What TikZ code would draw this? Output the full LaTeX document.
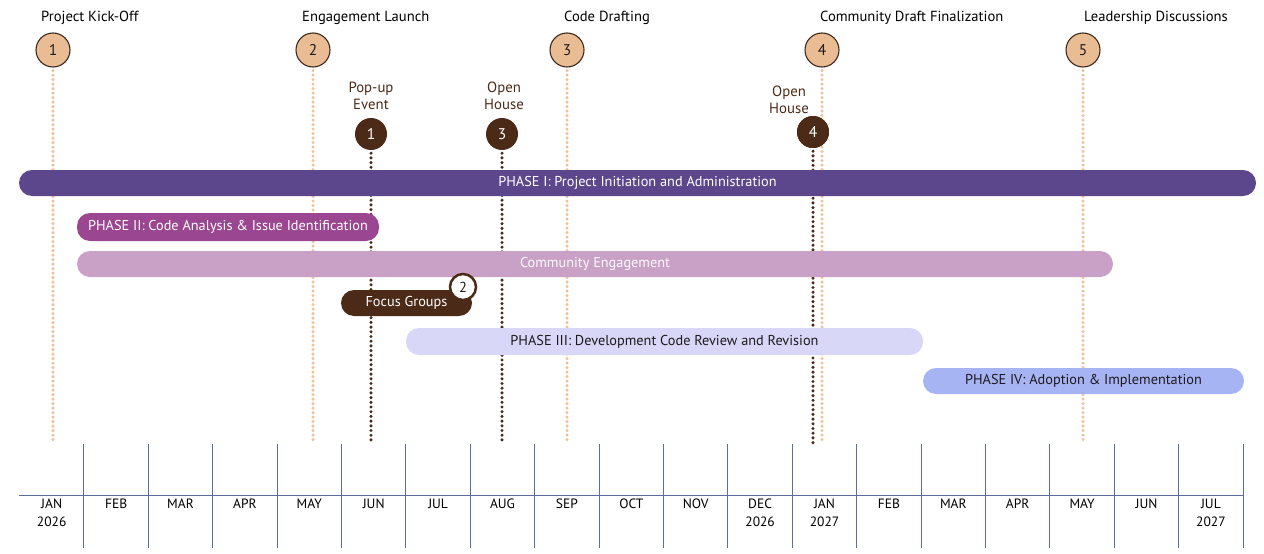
\documentclass[tikz,border=0pt]{standalone}
\usepackage{fontspec}
\setmainfont{PT Sans}
\usetikzlibrary{decorations.markings}
\definecolor{tanfill}{HTML}{E9BC94}
\definecolor{tandot}{HTML}{EFC29A}
\definecolor{ringdark}{HTML}{3C2A1E}
\definecolor{brownev}{HTML}{4B2A18}
\definecolor{phaseone}{HTML}{5C478D}
\definecolor{phasetwo}{HTML}{9A4690}
\definecolor{commeng}{HTML}{C9A1C6}
\definecolor{phasethree}{HTML}{D9D7F7}
\definecolor{phasefour}{HTML}{A7B4F4}
\definecolor{axisblue}{HTML}{5A6E9E}
\definecolor{textdark}{HTML}{1E1A1E}
\tikzset{
  milestone/.style={circle, draw=ringdark, line width=1.1pt, fill=tanfill, minimum size=34pt, inner sep=0pt, font=\fontsize{15.5}{16}\selectfont, text=textdark},
  eventdot/.style={circle, fill=brownev, minimum size=32pt, inner sep=0pt, font=\fontsize{15.5}{16}\selectfont, text=white},
  mslabel/.style={anchor=west, inner sep=0pt, font=\fontsize{14.6}{16}\selectfont, text=black},
  evlabel/.style={align=center, inner sep=0pt, font=\fontsize{14.8}{17}\selectfont, text=brownev},
  bar/.style={rounded corners=13pt, inner sep=0pt, font=\fontsize{14.3}{16}\selectfont},
  dotrow/.style 2 args={postaction={decorate, decoration={markings,
     mark=between positions 0 and 1 step #2 with {\fill[#1] (0,0) circle (1.7pt);}}}},
  tanline/.style={dotrow={tandot}{4.5pt}},
  darkline/.style={dotrow={brownev}{4.7pt}},
  axisline/.style={draw=axisblue, line width=1pt},
  monthlabel/.style={align=center, inner sep=0pt, font=\fontsize{13.5}{18}\selectfont, text=black, anchor=north}
}
\begin{document}
\begin{tikzpicture}[x=1pt, y=-1pt]
\useasboundingbox (0,0) rectangle (1264,554);

% milestone circles and labels
\node[milestone] (m1) at (53,50) {1};
\node[milestone] (m2) at (313,50) {2};
\node[milestone] (m3) at (567,50) {3};
\node[milestone] (m4) at (822,50) {4};
\node[milestone] (m5) at (1083,50) {5};
\node[mslabel] (l1) at (41,18) {Project Kick-Off};
\node[mslabel] (l2) at (302,18) {Engagement Launch};
\node[mslabel] (l3) at (564,18) {Code Drafting};
\node[mslabel] (l4) at (820,18) {Community Draft Finalization};
\node[mslabel] (l5) at (1084,18) {Leadership Discussions};

% event circles and labels
\node[eventdot] (e1) at (371,134) {1};
\node[eventdot] (e3) at (502,134) {3};
\node[eventdot] (e4) at (813,132) {4};
\node[evlabel] (el1) at (371,96) {Pop-up\\Event};
\node[evlabel] (el3) at (504,96) {Open\\House};
\node[evlabel] (el4) at (789,100) {Open\\House};

% line ends
\coordinate (t1) at (53,444);
\coordinate (t2) at (313,444);
\coordinate (t3) at (567,444);
\coordinate (t4) at (822,444);
\coordinate (t5) at (1083,444);
\coordinate (d1) at (371,444);
\coordinate (d3) at (502,444);
\coordinate (d4) at (813,444);

% dotted lines (behind bars)
\path[tanline] ([yshift=-3pt]m1.south) -- (t1);
\path[tanline] ([yshift=-3pt]m2.south) -- (t2);
\path[tanline] ([yshift=-3pt]m3.south) -- (t3);
\path[tanline] ([yshift=-3pt]m4.south) -- (t4);
\path[tanline] ([yshift=-3pt]m5.south) -- (t5);
\path[darkline] ([yshift=-3pt]e1.south) -- (d1);
\path[darkline] ([yshift=-3pt]e3.south) -- (d3);
\path[darkline] ([yshift=-3pt]e4.south) -- (d4);

% redraw circle 4 on top of the tan line
\node[eventdot] at (e4) {4};

% bars
\node[bar, fill=phaseone, text=white, minimum width=1237pt, minimum height=26pt] (p1) at (637.5,183) {PHASE I: Project Initiation and Administration};
\node[bar, fill=phasetwo, text=white, minimum width=302pt, minimum height=28pt] (p2) at (228,227) {PHASE II: Code Analysis \& Issue Identification};
\node[bar, fill=commeng, text=white!95!commeng, minimum width=1036pt, minimum height=26pt] (ce) at (595,264) {Community Engagement};
\node[bar, fill=brownev, text=white, minimum width=131pt, minimum height=26pt] (fg) at (406.5,303) {Focus Groups};
\node[circle, draw=brownev, line width=2.5pt, fill=white, minimum size=26pt, inner sep=0pt, font=\fontsize{14.5}{15}\selectfont, text=textdark] (fg2) at (463,287) {2};
\node[bar, fill=phasethree, text=textdark, minimum width=517pt, minimum height=27pt] (p3) at (664.5,341.5) {PHASE III: Development Code Review and Revision};
\node[bar, fill=phasefour, text=textdark, minimum width=321pt, minimum height=26pt] (p4) at (1083.5,381) {PHASE IV: Adoption \& Implementation};

% axis
\coordinate (ax0) at (19,495);
\coordinate (ax1) at (1243,495);
\path[axisline] (ax0) -- (ax1);
\foreach \k in {1,...,19} {
  \coordinate (dt\k) at ({19.5+64.4*\k},444);
  \coordinate (db\k) at ({19.5+64.4*\k},548);
  \path[axisline] (dt\k) -- (db\k);
}
\foreach \m [count=\i from 0] in {{JAN\\2026},FEB,MAR,APR,MAY,JUN,JUL,AUG,SEP,OCT,NOV,{DEC\\2026},{JAN\\2027},FEB,MAR,APR,MAY,JUN,{JUL\\2027}} {
  \node[monthlabel] (mo\i) at ({19.5+64.4*(\i+0.5)},499) {\m};
}
\end{tikzpicture}
\end{document}
